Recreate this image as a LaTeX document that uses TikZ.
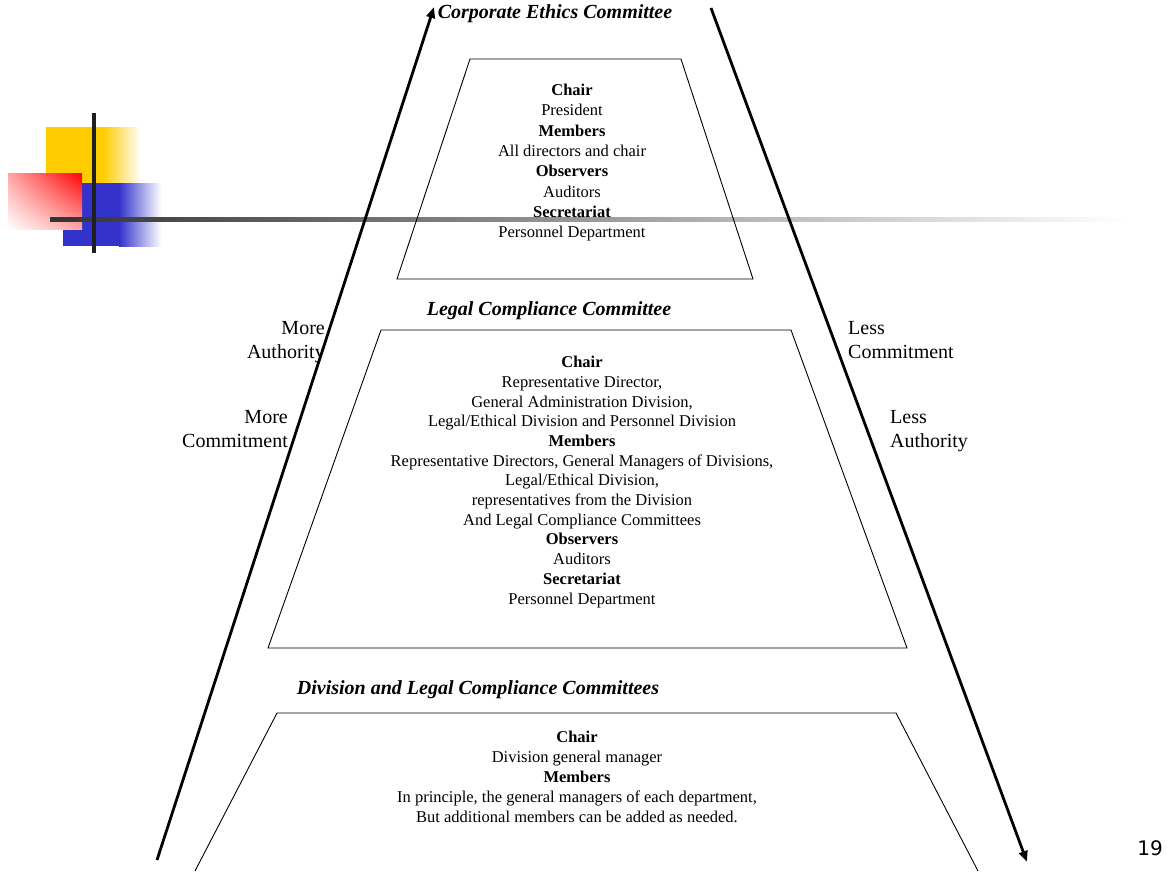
\documentclass[tikz,border=0pt]{standalone}
\usepackage{fontspec}
\setmainfont{Liberation Serif}
\newfontfamily\pagefont{DejaVu Sans}
\usetikzlibrary{arrows.meta,shadings}

\definecolor{yellowish}{HTML}{FFCC00}
\definecolor{bluish}{HTML}{3333CC}

\tikzset{
  trap/.style={line width=0.9pt, line join=miter},
  bigarrow/.style={line width=2.8pt, -{Triangle[length=11pt,width=8.5pt]}},
  heading/.style={inner sep=0pt, anchor=base, font=\fontsize{20}{24}\selectfont\bfseries\itshape},
  body/.style={align=center, inner sep=0pt, anchor=north, font=\fontsize{16.5}{20.3}\selectfont},
  side/.style={inner sep=0pt, font=\fontsize{20}{24}\selectfont},
}

\begin{document}
\begin{tikzpicture}[x=1pt,y=-1pt]
\useasboundingbox (0,0) rectangle (1167,871);
% slide decoration
\fill[yellowish] (46,127) rectangle (103,183);
\shade[left color=yellowish, right color=white] (103,127) rectangle (141,183);
\fill[bluish] (63,183) rectangle (119,246);
\shade[left color=bluish, right color=white] (119,183) rectangle (161,246);
\shade[upper right=red, lower left=white, upper left=red!35, lower right=red!35] (8,173) rectangle (82,229);
\shade[left color=black!80, right color=white] (50,217) rectangle (1125,221);
\fill[black!88] (92,113) rectangle (96,253);

% arrows
\coordinate (lb) at (157,860);
\coordinate (lt) at (434,7);
\coordinate (rt) at (711,8);
\coordinate (rb) at (1027,862);
\draw[bigarrow] (lb) -- (lt);
\draw[bigarrow] (rt) -- (rb);

% trapezoids
\coordinate (ce1) at (470,59);
\coordinate (ce2) at (681,59);
\coordinate (ce3) at (753,279);
\coordinate (ce4) at (397,279);
\draw[trap] (ce1) -- (ce2) -- (ce3) -- (ce4) -- cycle;
\coordinate (lc1) at (381,330);
\coordinate (lc2) at (791,330);
\coordinate (lc3) at (907,648);
\coordinate (lc4) at (268,648);
\draw[trap] (lc1) -- (lc2) -- (lc3) -- (lc4) -- cycle;
\coordinate (dc1) at (277,713);
\coordinate (dc2) at (896,713);
\coordinate (dc3) at (978,871);
\coordinate (dc4) at (195,871);
\draw[trap] (dc4) -- (dc1) -- (dc2) -- (dc3);

% committees
\node[heading] (cec) at (555,18.6) {Corporate Ethics Committee};
\node[body] (cebody) at (572,84) {\textbf{Chair}\\President\\\textbf{Members}\\All directors and chair\\
  \textbf{Observers}\\Auditors\\\textbf{Secretariat}\\Personnel Department};
\node[heading] (lcc) at (549,315.6) {Legal Compliance Committee};
\node[body, font=\fontsize{16.5}{19.7}\selectfont] (lcbody) at (582,356) {\textbf{Chair}\\
  Representative Director,\\General Administration Division,\\
  Legal/Ethical Division and Personnel Division\\\textbf{Members}\\
  Representative Directors, General Managers of Divisions,\\Legal/Ethical Division,\\
  representatives from the Division\\And Legal Compliance Committees\\
  \textbf{Observers}\\Auditors\\\textbf{Secretariat}\\Personnel Department};
\node[heading] (dcc) at (478,694.6) {Division and Legal Compliance Committees};
\node[body, font=\fontsize{16.5}{20}\selectfont] (dcbody) at (577,731) {\textbf{Chair}\\
  Division general manager\\\textbf{Members}\\
  In principle, the general managers of each department,\\
  But additional members can be added as needed.};

% side labels
\node[side, align=right, anchor=north east] (moreauth) at (325,321) {More\\Authority};
\node[side, align=right, anchor=north east] (morecom) at (288,410) {More\\Commitment};
\node[side, align=left, anchor=north west] (lesscom) at (848,321) {Less\\Commitment};
\node[side, align=left, anchor=north west] (lessauth) at (890,410) {Less\\Authority};

\node[font=\pagefont\fontsize{20}{22}\selectfont] (pageno) at (1150,848) {19};
\end{tikzpicture}
\end{document}
